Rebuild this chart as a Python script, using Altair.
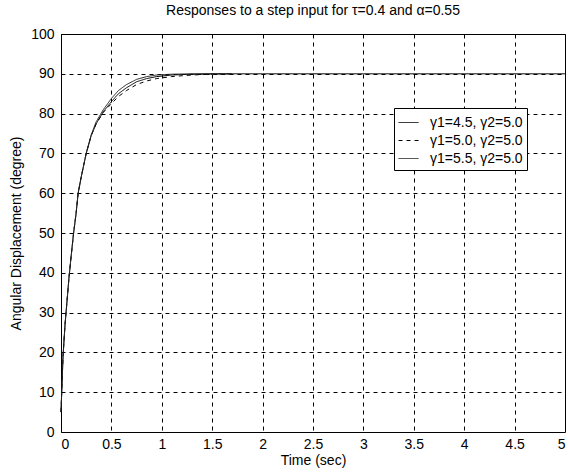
import altair as alt
import pandas as pd

# Time points (sec)
t1 = [0, 0.01, 0.02, 0.04, 0.06, 0.08, 0.1, 0.125, 0.15, 0.17, 0.2, 0.25, 0.3,
      0.35, 0.42, 0.5, 0.57, 0.65, 0.75, 0.85, 0.95, 1.1, 1.3, 1.5, 1.7, 2.0, 3.0, 4.0, 5.0]
y1 = [5, 12, 19, 27, 33, 39, 44, 50, 55, 60, 64, 70, 74.5,
      77.5, 80.5, 83, 85, 86.5, 88, 88.8, 89.3, 89.7, 89.9, 90, 90, 90, 90, 90, 90]

t2 = [0, 0.01, 0.02, 0.04, 0.06, 0.08, 0.1, 0.125, 0.15, 0.17, 0.2, 0.25, 0.3,
      0.35, 0.42, 0.5, 0.57, 0.65, 0.75, 0.85, 0.95, 1.1, 1.3, 1.5, 1.7]
y2 = [5, 12, 19, 27, 33, 39, 44, 50, 55, 60, 64, 70, 74.5,
      77.5, 80.3, 82.5, 84.3, 85.8, 87.3, 88.2, 88.8, 89.3, 89.7, 89.9, 90]

t3 = [0, 0.01, 0.02, 0.04, 0.06, 0.08, 0.1, 0.125, 0.15, 0.17, 0.2, 0.25, 0.3,
      0.35, 0.42, 0.5, 0.57, 0.65, 0.75, 0.85, 0.95, 1.1, 1.3, 1.5, 1.7]
y3 = [5, 12, 19, 27, 33, 39, 44, 50, 55, 60, 64, 70, 74.7,
      78, 81, 83.8, 85.8, 87.3, 88.6, 89.3, 89.7, 89.9, 90, 90, 90]

labels = ["γ1=4.5, γ2=5.0", "γ1=5.0, γ2=5.0", "γ1=5.5, γ2=5.0"]

rows = []
for lab, ts, ys in zip(labels, [t1, t2, t3], [y1, y2, y3]):
    for t, y in zip(ts, ys):
        rows.append({"t": t, "y": y, "series": lab})
df = pd.DataFrame(rows)

FONT = "Liberation Sans"


def make_legend():
    return alt.Legend(title=None, orient="none", legendX=333, legendY=74,
                      fillColor="white", strokeColor="black", padding=4,
                      symbolType="stroke", symbolSize=400, symbolStrokeWidth=1,
                      symbolOpacity=1,
                      labelFontSize=14, labelFont=FONT, labelColor="black",
                      rowPadding=0, labelOffset=11)


chart = alt.Chart(df).mark_line(strokeWidth=1).encode(
    x=alt.X("t:Q", title="Time (sec)",
            scale=alt.Scale(domain=[0, 5], nice=False),
            axis=alt.Axis(values=[0, 0.5, 1, 1.5, 2, 2.5, 3, 3.5, 4, 4.5, 5],
                          format="~g", labelPadding=5, titlePadding=2)),
    y=alt.Y("y:Q", title="Angular Displacement (degree)",
            scale=alt.Scale(domain=[0, 100], nice=False),
            axis=alt.Axis(values=list(range(0, 101, 10)), labelPadding=7, titlePadding=7)),
    color=alt.Color("series:N", sort=labels,
                    scale=alt.Scale(domain=labels, range=["#000000", "#000000", "#222222"]),
                    legend=make_legend()),
    strokeDash=alt.StrokeDash("series:N", sort=labels,
                              scale=alt.Scale(domain=labels, range=[[1, 0], [4, 4], [1, 0]]),
                              legend=make_legend()),
    order=alt.Order("t:Q"),
).properties(
    width=504, height=398,
    title=alt.TitleParams("Responses to a step input for τ=0.4 and α=0.55",
                          fontSize=14, fontWeight="normal", font=FONT, color="black", offset=9),
    autosize=alt.AutoSizeParams(type="none"),
    padding={"left": 61, "top": 34, "right": 3, "bottom": 42},
    background="white",
).configure_view(
    stroke="black", strokeWidth=1
).configure_axis(
    grid=True, gridColor="black", gridOpacity=1, gridDash=[4, 4], gridWidth=1,
    domain=False, ticks=False,
    labelFont=FONT, labelFontSize=14, labelColor="black",
    titleFont=FONT, titleFontSize=14, titleFontWeight="normal", titleColor="black",
)

chart.save("out.html", embed_options={"renderer": "svg", "actions": False})
